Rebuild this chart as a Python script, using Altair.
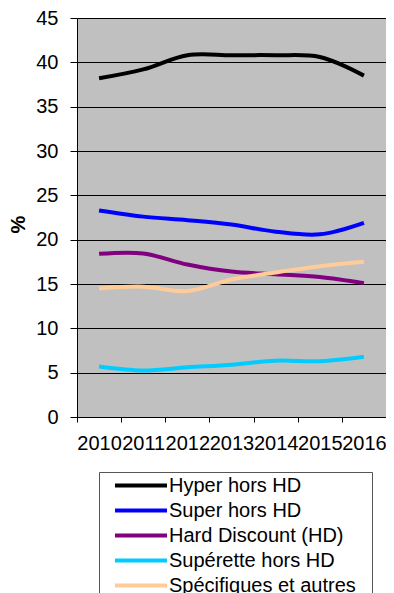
import altair as alt
import pandas as pd

years = ["2010", "2011", "2012", "2013", "2014", "2015", "2016"]
series_names = ["Hyper hors HD", "Super hors HD", "Hard Discount (HD)",
                "Supérette hors HD", "Spécifiques et autres"]
hyper = [38.2, 39.2, 40.8, 40.8, 40.8, 40.6, 38.5]
super_hd = [23.3, 22.6, 22.2, 21.7, 20.9, 20.6, 21.9]
hard_discount = [18.4, 18.45, 17.2, 16.4, 16.1, 15.8, 15.1]
superette = [5.7, 5.25, 5.6, 5.9, 6.35, 6.3, 6.8]
specifiques = [14.5, 14.7, 14.2, 15.5, 16.3, 17.0, 17.5]
colors = ["#000000", "#0000FF", "#800080", "#00CCFF", "#FFCC99"]
y_ticks = [0, 5, 10, 15, 20, 25, 30, 35, 40, 45]

rows = []
for name, vals in zip(series_names, [hyper, super_hd, hard_discount, superette, specifiques]):
    for yr, v in zip(years, vals):
        rows.append({"year": yr, "series": name, "value": v})
df = pd.DataFrame(rows)

FONT = "Liberation Sans"

chart = alt.Chart(df).mark_line(strokeWidth=4, interpolate="catmull-rom").encode(
    x=alt.X("year:O",
            scale=alt.Scale(type="band", paddingInner=0, paddingOuter=0),
            axis=alt.Axis(title=None, labelAngle=0, tickBand="extent", labelFontSize=20,
                          labelFont=FONT, labelColor="black", tickColor="black",
                          domainColor="black", tickSize=5, labelPadding=11, grid=False,
                          labelOverlap=False, labelBound=False)),
    y=alt.Y("value:Q",
            scale=alt.Scale(domain=[0, 45], nice=False),
            axis=alt.Axis(title="%", values=y_ticks, labelFontSize=20, labelFont=FONT,
                          labelColor="black", tickColor="black", domainColor="black",
                          tickSize=7, labelPadding=12, gridColor="#000000",
                          titleFont=FONT, titleFontSize=20, titleFontWeight="bold",
                          titleColor="black", titleAngle=270, titleBaseline="alphabetic",
                          titleAlign="center", titleX=-53, titleY=206)),
    color=alt.Color("series:N",
                    scale=alt.Scale(domain=series_names, range=colors),
                    legend=alt.Legend(orient="none", legendX=22, legendY=454, title=None,
                                      symbolType="stroke", symbolSize=2704,
                                      symbolStrokeWidth=4, clipHeight=25,
                                      symbolOffset=13, labelOffset=0,
                                      labelFontSize=20, labelFont=FONT,
                                      labelColor="black", rowPadding=0,
                                      padding=1, strokeColor="#555555", fillColor="white",
                                      labelLimit=400, direction="vertical",
                                      labelExpr="datum.label + '\u2800'")),
).properties(
    width=309, height=399,
    autosize=alt.AutoSizeParams(type="none"),
    padding={"left": 69, "top": 10, "right": 0, "bottom": 176},
).configure_view(fill="#C0C0C0", stroke="#808080")

chart.save("out.html", embed_options={"renderer": "svg", "actions": False})
